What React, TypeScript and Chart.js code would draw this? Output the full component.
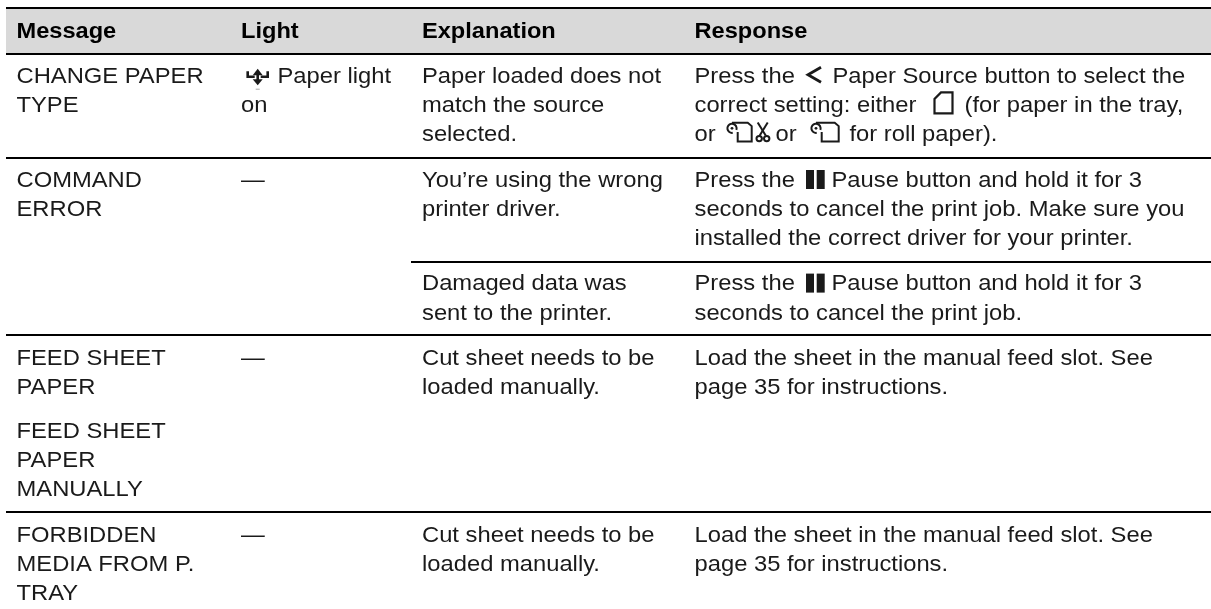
import React, { useEffect, useRef } from "react";
import { Chart, registerables } from "chart.js";

Chart.register(...registerables);

const headers = ["Message", "Light", "Explanation", "Response"];
const messageCol = [
  ["CHANGE PAPER", "TYPE"],
  ["COMMAND", "ERROR"],
  ["FEED SHEET", "PAPER"],
  ["FEED SHEET", "PAPER", "MANUALLY"],
  ["FORBIDDEN", "MEDIA FROM P.", "TRAY"],
];
const lightCol = [["{light}Paper light", "on"], ["—"], ["—"], [], ["—"]];
const explanationCol = [
  ["Paper loaded does not", "match the source", "selected."],
  ["You’re using the wrong", "printer driver."],
  ["Cut sheet needs to be", "loaded manually."],
  [],
  ["Cut sheet needs to be", "loaded manually."],
];
const explanationExtra = ["Damaged data was", "sent to the printer."];
const responseCol = [
  [
    "Press the {lt}Paper Source button to select the",
    "correct setting: either {sheet}(for paper in the tray,",
    "or {rollcut}or {roll}for roll paper).",
  ],
  [
    "Press the {pause}Pause button and hold it for 3",
    "seconds to cancel the print job. Make sure you",
    "installed the correct driver for your printer.",
  ],
  ["Load the sheet in the manual feed slot. See", "page 35 for instructions."],
  [],
  ["Load the sheet in the manual feed slot. See", "page 35 for instructions."],
];
const responseExtra = [
  "Press the {pause}Pause button and hold it for 3",
  "seconds to cancel the print job.",
];

const W = 1211;
const H = 609;
const LH = 29.2;
const COLS = [16.5, 241, 422, 694.5];
const FONT = '22px "Liberation Sans", Arial, sans-serif';
const BOLD = 'bold 22px "Liberation Sans", Arial, sans-serif';
const SX = 1.08;
const SX_BOLD = 1.073;
const INK = "#1a1a1a";
const ROW_Y = [82.7, 186.7, 365, 438, 541.5];
const EXTRA_Y = 290.3;
const HEADER_Y = 37.5;

// where each inline pictogram sits, and where the text after it resumes
const GLYPH_POS: Record<string, { x: number; next: number }> = {
  lt: { x: 807, next: 832.5 },
  sheet: { x: 934, next: 964.5 },
  rollcut: { x: 726.7, next: 775.5 },
  roll: { x: 810.7, next: 849.5 },
  pause: { x: 806, next: 831.5 },
  light: { x: 247.7, next: 277.5 },
};

function drawGlyph(ctx: CanvasRenderingContext2D, name: string, x: number, y: number) {
  ctx.save();
  ctx.strokeStyle = INK;
  ctx.fillStyle = INK;
  ctx.lineWidth = 2.2;
  const path = (pts: number[][]) => {
    ctx.beginPath();
    pts.forEach(([a, b], i) => (i ? ctx.lineTo(x + a, y + b) : ctx.moveTo(x + a, y + b)));
  };
  if (name === "lt") {
    ctx.lineWidth = 2.8;
    path([[14, -15.5], [1, -8], [14, -0.5]]);
    ctx.stroke();
  } else if (name === "sheet") {
    path([[7, -19.5], [18.5, -19.5], [18.5, 1.5], [0.5, 1.5], [0.5, -13]]);
    ctx.closePath();
    ctx.stroke();
  } else if (name === "pause") {
    ctx.fillRect(x, y - 16.7, 8, 19);
    ctx.fillRect(x + 10.7, y - 16.7, 8, 19);
  } else if (name === "roll" || name === "rollcut") {
    const w = name === "roll" ? 28 : 25;
    ctx.lineWidth = 2;
    ctx.beginPath();
    ctx.arc(x + 5.3, y - 12.8, 4.6, Math.PI * 0.45, Math.PI * 2.5 - 1.2);
    ctx.stroke();
    ctx.beginPath();
    ctx.arc(x + 5.3, y - 12.8, 1.4, 0, Math.PI * 2);
    ctx.fill();
    path([[5.3, -18.3], [w - 4, -18.3], [w, -15], [w, 0.3], [11, 0.3], [11, -9]]);
    ctx.stroke();
    if (name === "rollcut") {
      ctx.lineWidth = 2;
      path([[31, -18.5], [39, -5.5]]);
      ctx.stroke();
      path([[41, -18.5], [33, -5.5]]);
      ctx.stroke();
      ctx.beginPath();
      ctx.arc(x + 32.5, y - 2.5, 2.7, 0, Math.PI * 2);
      ctx.stroke();
      ctx.beginPath();
      ctx.arc(x + 40, y - 2.5, 2.7, 0, Math.PI * 2);
      ctx.stroke();
    }
  } else if (name === "light") {
    ctx.lineWidth = 2.6;
    path([[0, -11.5], [0, -6], [7, -6]]);
    ctx.stroke();
    path([[20, -11.5], [20, -6], [13, -6]]);
    ctx.stroke();
    path([[10, -10], [10, -1]]);
    ctx.stroke();
    path([[10, -14], [5, -7.5], [15, -7.5]]);
    ctx.closePath();
    ctx.fill();
    path([[10, 2.5], [5, -3.5], [15, -3.5]]);
    ctx.closePath();
    ctx.fill();
    ctx.fillStyle = "#aaa";
    ctx.fillRect(x + 8, y + 6, 4, 1);
  }
  ctx.restore();
}

function putText(ctx: CanvasRenderingContext2D, text: string, x: number, y: number, sx: number) {
  ctx.save();
  ctx.translate(x, y);
  ctx.scale(sx, 1);
  ctx.fillText(text, 0, 0);
  ctx.restore();
}

function drawRich(ctx: CanvasRenderingContext2D, text: string, x: number, y: number) {
  let cx = x;
  for (const part of text.split(/(\{[a-z]+\})/)) {
    if (!part) continue;
    const m = part.match(/^\{([a-z]+)\}$/);
    if (m) {
      drawGlyph(ctx, m[1], GLYPH_POS[m[1]].x, y);
      cx = GLYPH_POS[m[1]].next;
    } else {
      putText(ctx, part, cx, y, SX);
      cx += ctx.measureText(part).width * SX;
    }
  }
}

const tablePlugin = {
  id: "tablePlugin",
  afterDatasetsDraw(chart: any) {
    const ctx: CanvasRenderingContext2D = chart.ctx;
    ctx.save();
    ctx.textBaseline = "alphabetic";
    ctx.textAlign = "left";
    ctx.fillStyle = "#000";
    ctx.font = BOLD;
    headers.forEach((h, i) => putText(ctx, h, COLS[i], HEADER_Y, SX_BOLD));
    ctx.font = FONT;
    ctx.fillStyle = INK;
    const drawCol = (lines: string[], col: number, y: number) =>
      lines.forEach((l, i) => drawRich(ctx, l, COLS[col], y + i * LH));
    ROW_Y.forEach((y, r) => {
      drawCol(messageCol[r], 0, y);
      drawCol(lightCol[r], 1, y);
      drawCol(explanationCol[r], 2, y);
      drawCol(responseCol[r], 3, y);
    });
    drawCol(explanationExtra, 2, EXTRA_Y);
    drawCol(responseExtra, 3, EXTRA_Y);
    ctx.restore();
  },
};

const band = [
  { x: 6, y: 9 },
  { x: 1211, y: 9 },
];
const rules: { y: number; x0: number; w: number }[] = [
  { y: 8, x0: 6, w: 2 },
  { y: 54, x0: 6, w: 2 },
  { y: 158, x0: 6, w: 2 },
  { y: 262, x0: 411, w: 2 },
  { y: 335, x0: 6, w: 2 },
  { y: 512, x0: 6, w: 2 },
];

export default function App() {
  const ref = useRef<HTMLCanvasElement>(null);
  useEffect(() => {
    const chart = new Chart(ref.current!, {
      type: "line",
      data: {
        datasets: [
          {
            data: band,
            fill: { value: 53 },
            backgroundColor: "#d9d9d9",
            borderWidth: 0,
            pointRadius: 0,
          },
          ...rules.map((r) => ({
            data: [
              { x: r.x0, y: r.y },
              { x: W, y: r.y },
            ],
            borderColor: "#000",
            borderWidth: r.w,
            pointRadius: 0,
            fill: false,
          })),
        ],
      },
      options: {
        animation: false,
        responsive: false,
        layout: { padding: 0 },
        plugins: { legend: { display: false }, tooltip: { enabled: false } },
        scales: {
          x: { type: "linear", min: 0, max: W, display: false },
          y: { type: "linear", min: 0, max: H, reverse: true, display: false },
        },
      },
      plugins: [tablePlugin],
    } as any);
    return () => chart.destroy();
  }, []);
  return (
    <canvas
      ref={ref}
      width={W}
      height={H}
      style={{ position: "absolute", left: 0, top: 0, display: "block", background: "#fff" }}
    />
  );
}
